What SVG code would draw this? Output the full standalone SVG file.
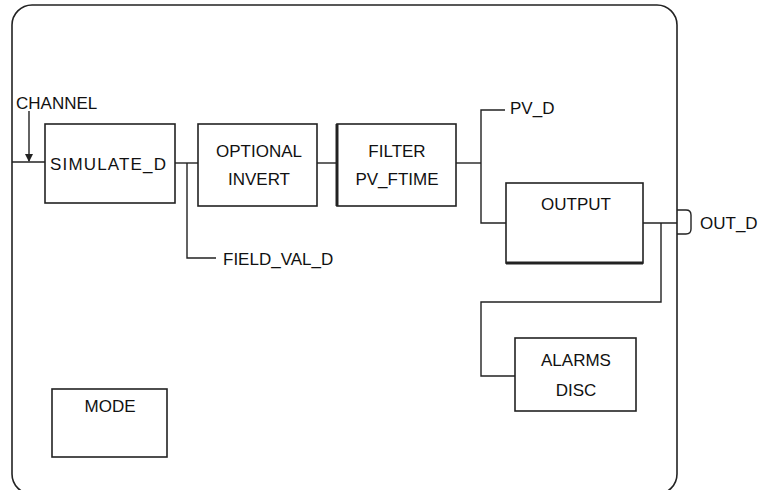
<svg xmlns="http://www.w3.org/2000/svg" width="764" height="490" viewBox="0 0 764 490">
<style>
.frame{fill:none;stroke:#222;stroke-width:1.6}
.box{fill:#fff;stroke:#222;stroke-width:1.6}
.ln{fill:none;stroke:#222;stroke-width:1.4}
text{font-family:"Liberation Sans",Arial,sans-serif;font-size:17px;fill:#111}
.c{text-anchor:middle}
</style>
<defs>
<marker id="ah" viewBox="0 0 8 8" refX="7" refY="4" markerWidth="8" markerHeight="8" orient="auto" markerUnits="userSpaceOnUse">
<path d="M0,0 L8,4 L0,8 Z" fill="#222"/>
</marker>
</defs>
<rect class="frame" x="12" y="5" width="665" height="489" rx="20" ry="20"/>
<g id="connectors">
<path class="ln" d="M12,162 H45"/>
<path class="ln" d="M29,111 V161" marker-end="url(#ah)"/>
<path class="ln" d="M175,163 H198"/>
<path class="ln" d="M187,163 V258 H216"/>
<path class="ln" d="M317,163 H337"/>
<path class="ln" d="M456,163 H481"/>
<path class="ln" d="M505,110 H481 V223 H506"/>
<path class="ln" d="M643,223 H677"/>
<path class="ln" d="M661,223 V302 H481 V376 H515"/>
<path class="ln" d="M677,210 H686 Q691,210 691,215 V229 Q691,234 686,234 H677"/>
</g>
<g id="labels">
<text x="16" y="109">CHANNEL</text>
<text x="223" y="265">FIELD_VAL_D</text>
<text x="510" y="114">PV_D</text>
<text x="700" y="229">OUT_D</text>
</g>
<g id="simulate">
<rect class="box" x="45" y="124" width="130" height="79"/>
<text x="50" y="170" textLength="116">SIMULATE_D</text>
</g>
<g id="invert">
<rect class="box" x="198" y="124" width="119" height="82"/>
<text class="c" x="259" y="157">OPTIONAL</text>
<text class="c" x="259" y="185">INVERT</text>
</g>
<g id="filter">
<rect class="box" x="337" y="124" width="119" height="82"/>
<path d="M337,124 V206" stroke="#222" stroke-width="3"/>
<text class="c" x="397" y="157">FILTER</text>
<text class="c" x="397" y="185">PV_FTIME</text>
</g>
<g id="output">
<rect class="box" x="506" y="183" width="137" height="80"/>
<path d="M506,263 H643" stroke="#222" stroke-width="3"/>
<text class="c" x="576" y="210">OUTPUT</text>
</g>
<g id="alarms">
<rect class="box" x="515" y="338" width="121" height="73"/>
<text class="c" x="576" y="366">ALARMS</text>
<text class="c" x="576" y="396">DISC</text>
</g>
<g id="mode">
<rect class="box" x="52" y="389" width="115" height="68"/>
<text class="c" x="110" y="412">MODE</text>
</g>
</svg>
